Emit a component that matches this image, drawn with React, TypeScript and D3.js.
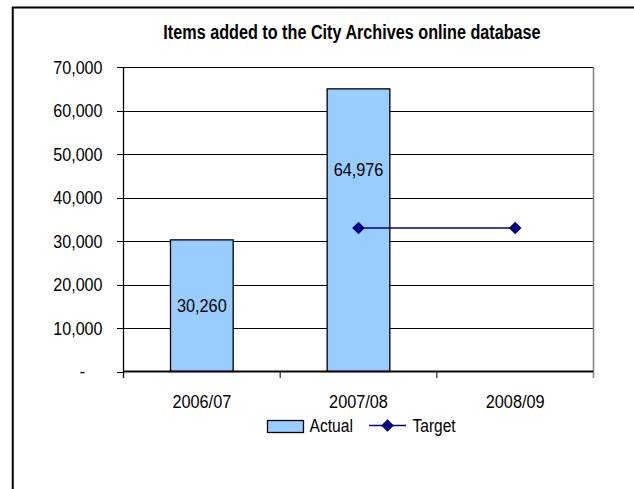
import React from "react";
import * as d3 from "d3";

const categories = ["2006/07", "2007/08", "2008/09"];
const actualValues: (number | null)[] = [30260, 64976, null];
const targetValues: (number | null)[] = [null, 33000, 33000];
const yTicks = [0, 10000, 20000, 30000, 40000, 50000, 60000, 70000];
const title = "Items added to the City Archives online database";
const legendLabels = ["Actual", "Target"];

const W = 634;
const H = 489;
const FONT = "'Liberation Sans', Arial, sans-serif";
const BAR_FILL = "#99CCFF";
const NAVY = "#000080";

function T(props: {
  x: number;
  y: number;
  anchor?: "start" | "middle" | "end";
  size?: number;
  sx?: number;
  bold?: boolean;
  children: React.ReactNode;
}) {
  const { x, y, anchor = "start", size = 18.5, sx = 0.87, bold = false, children } = props;
  return (
    <text
      transform={`translate(${x},${y}) scale(${sx},1)`}
      textAnchor={anchor}
      fontSize={size}
      fontWeight={bold ? "bold" : "normal"}
      fill="#000"
    >
      {children}
    </text>
  );
}

export default function App() {
  const left = 123.5;
  const right = 593.5;
  const top = 67;
  const bottom = 371.5;

  const x = d3.scaleBand<string>().domain(categories).range([left, right]).paddingInner(0.6).paddingOuter(0.3);
  const xc = d3.scalePoint<string>().domain(categories).range([left, right]).padding(0.5);
  const y = d3.scaleLinear().domain([0, 70000]).range([bottom, top]);
  const fmt = d3.format(",");
  const step = (right - left) / categories.length;

  const targetPts = categories
    .map((c, i) => ({ c, v: targetValues[i] }))
    .filter((d) => d.v !== null) as { c: string; v: number }[];
  const line = d3
    .line<{ c: string; v: number }>()
    .x((d) => xc(d.c)!)
    .y((d) => y(d.v));

  const diamond = (cx: number, cy: number, r: number) =>
    `M${cx},${cy - r}L${cx + r},${cy}L${cx},${cy + r}L${cx - r},${cy}Z`;

  const labelCenter = (i: number, v: number) =>
    i === 0 ? (y(v) + y(0)) / 2 : y(46400);

  return (
    <svg
      width={W}
      height={H}
      style={{ position: "absolute", left: 0, top: 0, background: "#fff" }}
      fontFamily={FONT}
    >
      <rect x={0} y={0} width={W} height={H} fill="#fff" />
      <rect x={12.75} y={7.5} width={800} height={700} fill="#fff" stroke="#000" strokeWidth={2} />

      <T x={352} y={39} anchor="middle" size={20} sx={0.81} bold>
        {title}
      </T>

      {yTicks.filter((t) => t > 0).map((t) => (
        <line key={t} x1={left} x2={right - 0.5} y1={Math.round(y(t)) + 0.5} y2={Math.round(y(t)) + 0.5} stroke="#000" strokeWidth={1} />
      ))}

      {categories.map((c, i) => {
        const v = actualValues[i];
        if (v === null) return null;
        return (
          <rect
            key={c}
            x={x(c)!}
            y={y(v)}
            width={x.bandwidth()}
            height={y(0) - y(v)}
            fill={BAR_FILL}
            stroke="#000"
            strokeWidth={1.3}
          />
        );
      })}

      <line x1={593.5} x2={593.5} y1={top} y2={378} stroke="#808080" strokeWidth={1.5} />

      <line x1={left} x2={left} y1={top} y2={378} stroke="#000" strokeWidth={1.3} />
      {yTicks.map((t) => (
        <g key={t}>
          <line x1={117} x2={left} y1={Math.round(y(t)) + 0.5} y2={Math.round(y(t)) + 0.5} stroke="#000" strokeWidth={1} />
          <T x={t === 0 ? 85 : 102.5} y={y(t) + 6.5} anchor="end">
            {t === 0 ? "-" : fmt(t)}
          </T>
        </g>
      ))}

      <line x1={left} x2={right - 0.5} y1={bottom} y2={bottom} stroke="#000" strokeWidth={2} />
      {d3.range(categories.length).map((i) => (
        <line key={i} x1={left + i * step} x2={left + i * step} y1={bottom} y2={378} stroke="#000" strokeWidth={1} />
      ))}
      {categories.map((c) => (
        <T key={c} x={xc(c)!} y={408.3} anchor="middle" sx={0.88}>
          {c}
        </T>
      ))}

      <path d={line(targetPts) || ""} fill="none" stroke={NAVY} strokeWidth={1.6} />
      {targetPts.map((d) => (
        <path key={d.c} d={diamond(xc(d.c)!, y(d.v), 6.3)} fill={NAVY} />
      ))}

      {categories.map((c, i) => {
        const v = actualValues[i];
        if (v === null) return null;
        return (
          <T key={c} x={xc(c)!} y={labelCenter(i, v) + 6.8} anchor="middle" sx={0.88}>
            {fmt(v)}
          </T>
        );
      })}

      <rect x={267.5} y={420.5} width={36} height={12} fill={BAR_FILL} stroke="#000" strokeWidth={1.3} />
      <T x={309.5} y={431.7} sx={0.845}>{legendLabels[0]}</T>
      <line x1={369} x2={406} y1={425.5} y2={425.5} stroke={NAVY} strokeWidth={1.6} />
      <path d={diamond(387.5, 425.5, 6.3)} fill={NAVY} />
      <T x={412.5} y={431.7} sx={0.84}>{legendLabels[1]}</T>
    </svg>
  );
}
